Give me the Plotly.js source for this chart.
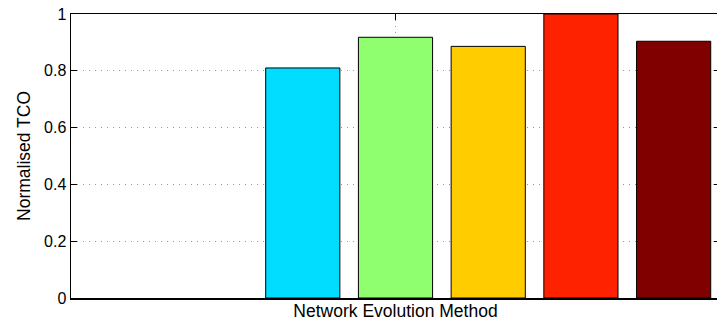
<!DOCTYPE html>
<html>
<head>
<meta charset="utf-8">
<script src="https://cdn.plot.ly/plotly-3.0.1.min.js"></script>
<style>html,body{margin:0;padding:0;overflow:hidden;background:#fff;}</style>
</head>
<body>
<div id="chart" style="width:720px;height:329px;"></div>
<script>
// Data
const methods = [1, 2, 3, 4, 5, 6, 7];
const tcoValues = [0, 0, 0.81, 0.918, 0.886, 1.0, 0.904];
const barColors = ['#00008F', '#0000FF', '#00DDFF', '#8FFF6F', '#FFCC00', '#FF2200', '#800000'];
const yTicks = [0, 0.2, 0.4, 0.6, 0.8, 1];
const yTickLabels = ['0', '0.2', '0.4', '0.6', '0.8', '1'];
const xTitle = 'Network Evolution Method';
const yTitle = 'Normalised TCO';

const fam = 'Liberation Sans, Arial, sans-serif';
const edgeWidths = tcoValues.map(v => v > 0 ? 1 : 0);

Plotly.newPlot('chart', [{
  type: 'bar',
  x: methods,
  y: tcoValues,
  width: 0.8,
  marker: {color: barColors, line: {color: '#000', width: edgeWidths}},
  hoverinfo: 'none'
}], {
  width: 720,
  height: 329,
  margin: {l: 71, r: 0, t: 14, b: 31},
  paper_bgcolor: '#fff',
  plot_bgcolor: '#fff',
  showlegend: false,
  font: {family: fam, size: 16, color: '#000'},
  bargap: 0.2,
  xaxis: {
    range: [0.5, 7.5],
    tickvals: [4],
    showticklabels: false,
    ticks: 'inside',
    ticklen: 6,
    tickcolor: '#000',
    showgrid: true,
    gridcolor: '#999',
    griddash: '1px,5px',
    gridwidth: 1,
    showline: true,
    linecolor: '#000',
    linewidth: 1.5,
    mirror: 'ticks',
    zeroline: false,
    layer: 'below traces',
    title: {text: xTitle, font: {family: fam, size: 17.5, color: '#000'}, standoff: 6}
  },
  yaxis: {
    range: [0, 1],
    tickvals: yTicks,
    ticktext: yTickLabels,
    ticks: 'inside',
    ticklen: 6,
    tickcolor: '#000',
    showgrid: true,
    gridcolor: '#999',
    griddash: '1px,5px',
    gridwidth: 1,
    showline: true,
    linecolor: '#000',
    linewidth: 1.5,
    mirror: 'ticks',
    zeroline: false,
    tickfont: {family: fam, size: 16, color: '#000'},
    title: {text: yTitle, font: {family: fam, size: 17.5, color: '#000'}, standoff: 9}
  }
}, {displayModeBar: false, staticPlot: true});
</script>
</body>
</html>
